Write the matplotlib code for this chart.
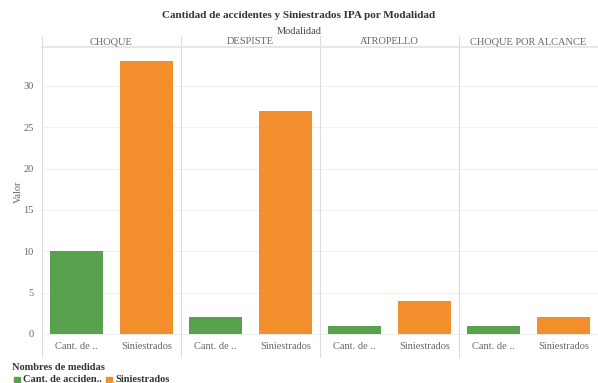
import matplotlib.pyplot as plt
from matplotlib.patches import Rectangle

plt.rcParams['font.family'] = ['Liberation Serif', 'DejaVu Serif']

modalidades = ['CHOQUE', 'DESPISTE', 'ATROPELLO', 'CHOQUE POR ALCANCE']
medidas = ['Cant. de ..', 'Siniestrados']
cant_accidentes = [10, 2, 1, 1]
siniestrados = [33, 27, 4, 2]
colores = ['#59A14F', '#F28E2B']

W, H = 598, 383
fig = plt.figure(figsize=(W / 100, H / 100), dpi=100)

left, right = 42, 598
top, bottom = 47, 338
pw = (right - left) / len(modalidades)
text_c = '#666666'

axes = []
for i, mod in enumerate(modalidades):
    x0 = left + i * pw
    ax = fig.add_axes([x0 / W, 1 - bottom / H, pw / W, (bottom - top) / H])
    vals = [cant_accidentes[i], siniestrados[i]]
    ax.bar([0, 1], vals, width=0.76, color=colores, zorder=3)
    ax.set_xlim(-0.5, 1.5)
    ax.set_ylim(-0.5, 34.7)
    ax.set_yticks([0, 5, 10, 15, 20, 25, 30])
    ax.yaxis.grid(True, color='#f0f0f0', lw=0.8, zorder=0)
    ax.set_xticks([0, 1])
    ax.set_xticklabels(medidas, fontsize=7.5, color=text_c)
    ax.tick_params(axis='x', length=0, pad=3)
    ax.tick_params(axis='y', length=0, labelsize=7.5, labelcolor=text_c, pad=6)
    for s in ['top', 'bottom', 'right']:
        ax.spines[s].set_visible(False)
    ax.spines['left'].set_color('#dcdcdc')
    ax.spines['left'].set_linewidth(0.8)
    if i > 0:
        ax.set_yticklabels([])
    # encabezado del panel
    fig.text((x0 + pw / 2) / W, 1 - 42 / H, mod, ha='center', va='center',
             fontsize=7.5, color=text_c)
    # separadores
    fig.add_artist(plt.Line2D([x0 / W, x0 / W], [1 - 36 / H, 1 - top / H],
                              color='#dcdcdc', lw=0.8))
    fig.add_artist(plt.Line2D([x0 / W, x0 / W], [1 - bottom / H, 1 - 357 / H],
                              color='#dcdcdc', lw=0.8))
    axes.append(ax)

fig.add_artist(plt.Line2D([left / W, right / W], [1 - top / H, 1 - top / H],
                          color='#e3e3e3', lw=1.2))

fig.text(18 / W, 1 - 192 / H, 'Valor', rotation=90, ha='center', va='center',
         fontsize=7.5, color=text_c)

fig.text(0.5, 1 - 16 / H, 'Cantidad de accidentes y Siniestrados IPA por Modalidad',
         ha='center', va='center', fontsize=8, fontweight='bold', color='#333333')
fig.text(0.5, 1 - 32 / H, 'Modalidad', ha='center', va='center',
         fontsize=7.5, color='#444444')

# leyenda
fig.text(12 / W, 1 - 368 / H, 'Nombres de medidas', ha='left', va='center',
         fontsize=7.5, fontweight='bold', color='#333333')
lx = 14
for c, nombre in zip(colores, ['Cant. de acciden..', 'Siniestrados']):
    fig.add_artist(Rectangle((lx / W, 1 - 383 / H), 6 / W, 6 / H, color=c,
                             transform=fig.transFigure))
    fig.text((lx + 9) / W, 1 - 380 / H, nombre, ha='left', va='center',
             fontsize=7.5, fontweight='bold', color='#333333')
    lx += 92

fig.savefig('out.png', dpi=100)
